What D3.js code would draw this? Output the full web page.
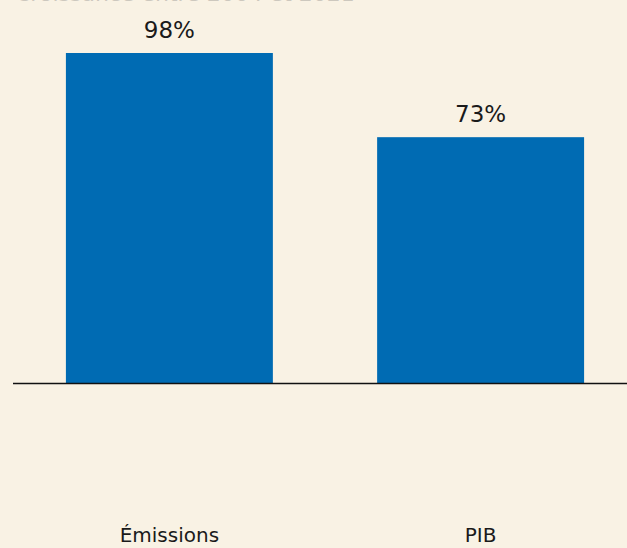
<!DOCTYPE html>
<html>
<head>
<meta charset="utf-8">
<script src="https://cdn.jsdelivr.net/npm/d3@7"></script>
<style>
  html, body { margin: 0; padding: 0; background: #f9f2e4; }
  svg { display: block; }
</style>
</head>
<body>
<div id="chart"></div>
<script>
// Growth between two years, in percent
const categories = ["Émissions", "PIB"];
const values = [98, 73];
const valueLabels = ["98%", "73%"];
const title = "Croissance entre 2004 et 2021";

const width = 627, height = 548;
const svg = d3.select("#chart").append("svg")
  .attr("width", width).attr("height", height);

svg.append("rect").attr("width", width).attr("height", height).attr("fill", "#f9f2e4");

const x = d3.scaleBand()
  .domain(categories)
  .range([13, 637])
  .paddingInner(0.335)
  .paddingOuter(0.17);

const y = d3.scaleLinear()
  .domain([0, 98])
  .range([383, 53]);

// Title, running off the top edge
svg.append("text")
  .attr("x", 15).attr("y", 1)
  .attr("font-family", "'DejaVu Sans', sans-serif")
  .attr("font-size", 22)
  .attr("fill", "#cdc8be")
  .text(title);

svg.selectAll("rect.bar")
  .data(values)
  .join("rect")
  .attr("class", "bar")
  .attr("x", (d, i) => x(categories[i]))
  .attr("width", x.bandwidth())
  .attr("y", d => y(d))
  .attr("height", d => y(0) - y(d))
  .attr("fill", "#006bb3");

svg.selectAll("text.value")
  .data(values)
  .join("text")
  .attr("class", "value")
  .attr("x", (d, i) => x(categories[i]) + x.bandwidth() / 2)
  .attr("y", d => y(d) - 15)
  .attr("text-anchor", "middle")
  .attr("font-family", "'DejaVu Sans', sans-serif")
  .attr("font-size", 23)
  .attr("fill", "#1a1a1a")
  .text((d, i) => valueLabels[i]);

// Baseline
svg.append("line")
  .attr("x1", 13).attr("x2", width)
  .attr("y1", y(0) + 0.5).attr("y2", y(0) + 0.5)
  .attr("stroke", "#111").attr("stroke-width", 1.5);

// Category labels along the bottom
const axis = d3.axisBottom(x).tickSize(0).tickPadding(0);
const gx = svg.append("g").attr("transform", "translate(0,542)").call(axis);
gx.select(".domain").remove();
gx.selectAll("text")
  .attr("font-family", "'DejaVu Sans', sans-serif")
  .attr("font-size", 20)
  .attr("fill", "#1a1a1a")
  .attr("dy", "0");
</script>
</body>
</html>
